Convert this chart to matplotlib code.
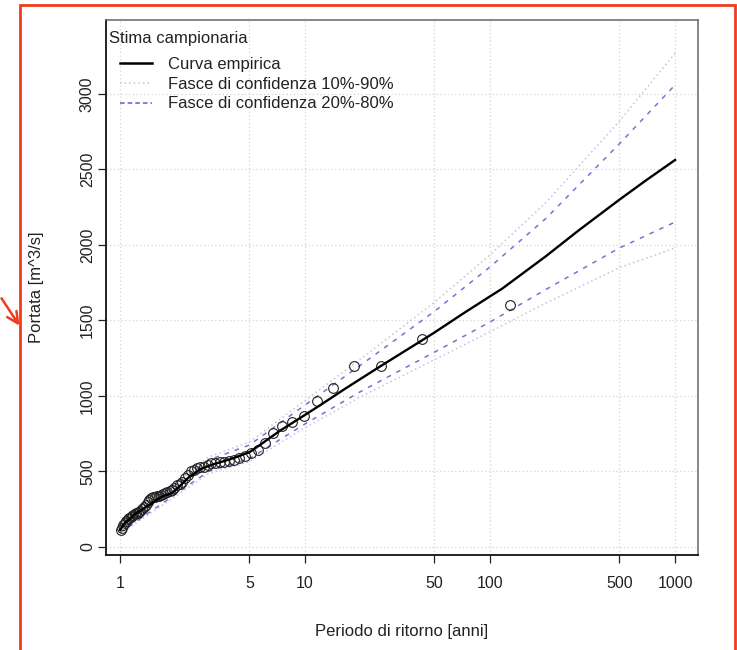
import numpy as np
import matplotlib
matplotlib.use("Agg")
import matplotlib.pyplot as plt
from matplotlib.lines import Line2D
from matplotlib.patches import Rectangle, FancyArrowPatch

plt.rcParams['font.family'] = ['Liberation Sans', 'DejaVu Sans']

# Observed annual peak discharges (sorted, largest first) and their return periods
obs_T = [128, 42.67, 25.6, 18.29, 14.22, 11.64, 9.85, 8.53, 7.53, 6.74,
         6.10, 5.57, 5.12, 4.74, 4.41, 4.13, 3.88, 3.66, 3.46, 3.28,
         3.12, 2.98, 2.84, 2.72, 2.61, 2.51, 2.42, 2.33, 2.25, 2.17,
         2.10, 2.03, 1.97, 1.91, 1.86, 1.80, 1.75, 1.71, 1.66, 1.62,
         1.58, 1.54, 1.51, 1.47, 1.44, 1.41, 1.38, 1.35, 1.32, 1.29,
         1.27, 1.25, 1.22, 1.20, 1.18, 1.16, 1.14, 1.12, 1.10, 1.08,
         1.06, 1.04, 1.02, 1.008]
obs_Q = [1600, 1375, 1200, 1200, 1050, 970, 870, 830, 800, 755,
         690, 640, 625, 605, 590, 578, 570, 565, 561, 557,
         553, 545, 533, 527, 520, 510, 500, 480, 460, 432,
         420, 410, 388, 380, 372, 363, 355, 349, 344, 341,
         337, 333, 330, 322, 312, 300, 278, 262, 250, 238,
         232, 228, 222, 218, 213, 207, 200, 195, 185, 170,
         158, 145, 128, 110]

# Empirical growth curve
curve_T = [1.0, 1.064, 1.205, 1.37, 1.489, 1.69, 1.909, 2.11, 2.33, 2.71,
           3.14, 4.03, 5.04, 5.93, 7.32, 8.5, 10, 12.1, 16.8, 25.4,
           42.7, 50, 71.3, 100, 116, 200, 300, 500, 700, 1000]
curve_Q = [113, 160, 218, 262, 291, 335, 358, 405, 457, 515,
           545, 585, 630, 690, 770, 820, 875, 940, 1055, 1195,
           1367, 1420, 1545, 1660, 1710, 1925, 2095, 2300, 2430, 2563]

# Confidence bands
band_T = [1, 2, 3, 5, 10, 20, 50, 100, 200, 500, 1000]
q10 = [88, 335, 485, 565, 790, 995, 1240, 1425, 1615, 1850, 1980]
q90 = [138, 425, 595, 695, 970, 1245, 1620, 1935, 2280, 2820, 3270]
q20 = [95, 350, 500, 585, 815, 1030, 1290, 1490, 1705, 1980, 2152]
q80 = [130, 410, 575, 675, 940, 1205, 1560, 1855, 2175, 2670, 3060]

xticks = [1, 5, 10, 50, 100, 500, 1000]
yticks = [0, 500, 1000, 1500, 2000, 2500, 3000]

W, H = 737, 650
fig = plt.figure(figsize=(W / 100, H / 100), dpi=100)
ax = fig.add_axes([106 / W, 1 - 555 / H, (698 - 106) / W, (555 - 20) / H])

ax.set_xscale('log')
ax.set_xlim(0.840, 1330)
ax.set_ylim(-53, 3490)

# grid at tick positions
for t in xticks:
    ax.axvline(t, color='#d4d4d4', ls=(0, (1, 2)), lw=0.9, zorder=0)
for v in yticks:
    ax.axhline(v, color='#d4d4d4', ls=(0, (1, 2)), lw=0.9, zorder=0)

dot_col = '#c9bfdc'
dash_col = '#5b5bcc'
ax.plot(band_T, q10, color=dot_col, ls=(0, (1, 2)), lw=1.1, zorder=2)
ax.plot(band_T, q90, color=dot_col, ls=(0, (1, 2)), lw=1.1, zorder=2)
ax.plot(band_T, q20, color=dash_col, ls=(0, (3, 4)), lw=1.1, alpha=0.85, zorder=2)
ax.plot(band_T, q80, color=dash_col, ls=(0, (3, 4)), lw=1.1, alpha=0.85, zorder=2)

ax.plot(obs_T, obs_Q, ls='none', marker='o', ms=7, mfc='none',
        mec='#222222', mew=0.8, zorder=3)
ax.plot(curve_T, curve_Q, color='black', lw=1.7, zorder=4)

ax.set_xticks(xticks)
ax.set_xticklabels([str(t) for t in xticks])
ax.minorticks_off()
ax.set_yticks(yticks)
ax.set_yticklabels([str(v) for v in yticks], rotation=90, va='center')
ax.tick_params(axis='both', length=6, width=0.9, color='#222222',
               labelsize=11.5, labelcolor='#222222')
ax.tick_params(axis='x', pad=9)
ax.tick_params(axis='y', pad=2)

for side in ['left', 'bottom']:
    ax.spines[side].set_color('#111111')
    ax.spines[side].set_linewidth(1.3)
for side in ['top', 'right']:
    ax.spines[side].set_color('#666666')
    ax.spines[side].set_linewidth(1.1)

ax.set_xlabel('Periodo di ritorno [anni]', fontsize=12, color='#222222', labelpad=24)
ax.set_ylabel('Portata [m^3/s]', fontsize=12, color='#222222', labelpad=26)

# legend
fig.text(109 / W, 1 - 38 / H, 'Stima campionaria', fontsize=12,
         color='#222222', va='center', ha='left')
handles = [Line2D([], [], color='black', lw=1.8),
           Line2D([], [], color=dot_col, ls=(0, (1, 2)), lw=1.1),
           Line2D([], [], color=dash_col, ls=(0, (3, 2)), lw=1.1)]
labels = ['Curva empirica', 'Fasce di confidenza 10%-90%', 'Fasce di confidenza 20%-80%']
leg = ax.legend(handles, labels, loc='upper left',
                bbox_to_anchor=(120 / W, 1 - 57 / H),
                bbox_transform=fig.transFigure, frameon=False, fontsize=12,
                handlelength=1.9, handletextpad=0.95, labelspacing=0.28,
                borderpad=0, borderaxespad=0)
for t in leg.get_texts():
    t.set_color('#222222')

# red frame and arrow
fig.patches.append(Rectangle((20 / W, -0.01), (735 - 20) / W, 1 - 5 / H + 0.01,
                             transform=fig.transFigure, fill=False,
                             edgecolor='#f03c1e', lw=2.0))
fig.patches.append(FancyArrowPatch((0 / W, 1 - 296 / H), (21 / W, 1 - 328 / H),
                                   transform=fig.transFigure, arrowstyle='->',
                                   mutation_scale=20, color='#f03c1e', lw=1.8))

fig.savefig('out.png', dpi=100)
